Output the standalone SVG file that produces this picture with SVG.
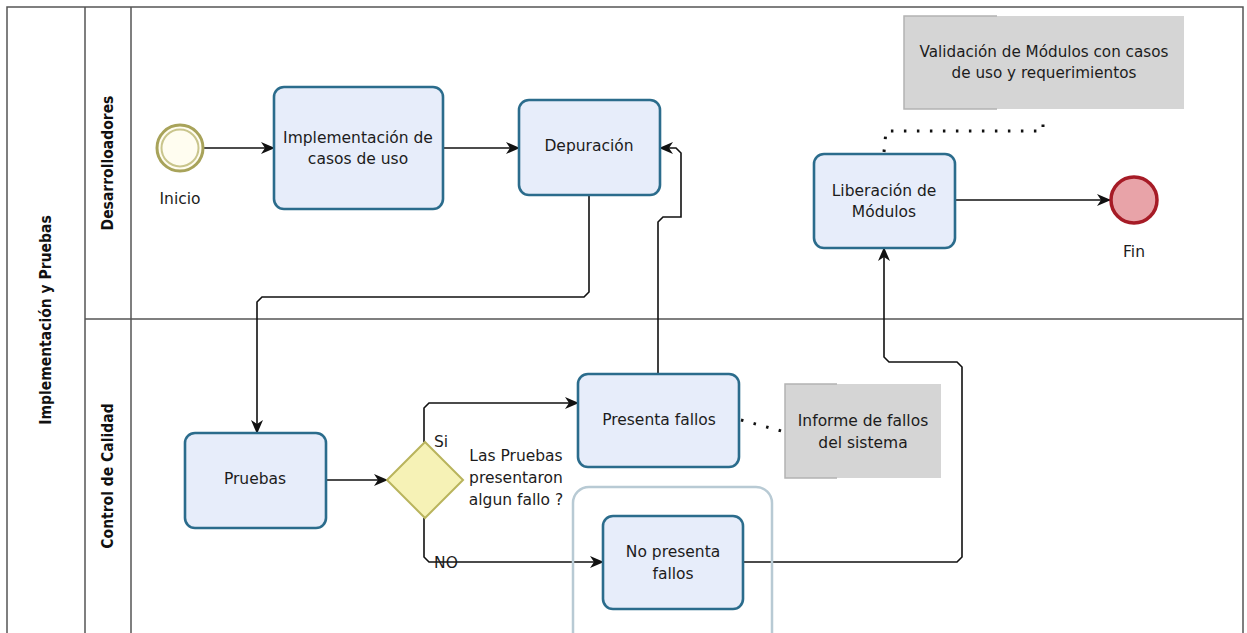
<svg xmlns="http://www.w3.org/2000/svg" width="1247" height="633" viewBox="0 0 1247 633">
  <defs>
    <marker id="arrow" viewBox="0 0 14 12" refX="13" refY="6" markerWidth="14" markerHeight="12" markerUnits="userSpaceOnUse" orient="auto">
      <path d="M0,0 L14,6 L0,12 L4,6 z" fill="#111"/>
    </marker>
    <style>
      .pool { fill: none; stroke: #555; stroke-width: 1.5; }
      .task { fill: #e7edfa; stroke: #2b6c8c; stroke-width: 2.6; }
      .flow { fill: none; stroke: #111; stroke-width: 1.6; marker-end: url(#arrow); }
      .assoc { fill: none; stroke: #111; stroke-width: 3; stroke-dasharray: 2.5 10.5; }
      .note { fill: #d5d5d5; }
      .bracket { fill: none; stroke: #b3b3b3; stroke-width: 1.5; }
      .lbl { font-family: "DejaVu Sans", "Liberation Sans", sans-serif; font-size: 15.5px; fill: #1c1c1c; text-anchor: middle; }
      .note-txt { font-size: 15.2px; }
      .lane { font-family: "DejaVu Sans Condensed", "DejaVu Sans", sans-serif; font-size: 15.5px; font-weight: bold; fill: #111; text-anchor: middle; }
    </style>
  </defs>

  <rect width="1247" height="633" fill="#fff"/>

  <!-- Pool and lanes -->
  <g id="pool">
    <path class="pool" d="M7,640 V7 H1243 V640"/>
    <path class="pool" d="M85,7 V640 M131,7 V640 M85,319 H1243"/>
    <text class="lane" transform="translate(51,320) rotate(-90)">Implementación y Pruebas</text>
    <text class="lane" transform="translate(113,163) rotate(-90)">Desarrolloadores</text>
    <text class="lane" transform="translate(113,476) rotate(-90)">Control de Calidad</text>
  </g>

  <!-- Connectors -->
  <g id="connectors">
    <path class="flow" d="M204,148 H274"/>
    <path class="flow" d="M443,148 H519"/>
    <path class="flow" d="M589,195 V292 L584,297 H262 L257,302 V433"/>
    <path class="flow" d="M326,480 H387"/>
    <path class="flow" d="M424,442 V408 L429,403 H578"/>
    <path class="flow" d="M424,518 V557 L429,562 H603"/>
    <path class="flow" d="M658,374 V222 L663,217 H681 V153 L676,148 H660"/>
    <path class="flow" d="M743,562 H957 L962,557 V367 L957,362 H889 L884,357 V248"/>
    <path class="flow" d="M955,200 H1110"/>
    <path class="assoc" d="M884,152 L886,131 H1043 V115"/>
    <path class="assoc" d="M741,420 L785,432"/>
  </g>

  <!-- Start event -->
  <g id="inicio">
    <circle cx="180" cy="148" r="23" fill="#fffdf0" stroke="#a8a35a" stroke-width="3"/>
    <circle cx="180" cy="148" r="18.5" fill="none" stroke="#c9c58c" stroke-width="2"/>
    <text class="lbl" x="180" y="204">Inicio</text>
  </g>

  <g id="implementacion">
    <rect class="task" x="274" y="87" width="169" height="122" rx="10"/>
    <text class="lbl" x="358" y="143">Implementación de</text>
    <text class="lbl" x="358" y="164">casos de uso</text>
  </g>

  <g id="depuracion">
    <rect class="task" x="519" y="100" width="141" height="95" rx="10"/>
    <text class="lbl" x="589" y="151">Depuración</text>
  </g>

  <g id="liberacion">
    <rect class="task" x="814" y="154" width="141" height="94" rx="10"/>
    <text class="lbl" x="884" y="196">Liberación  de</text>
    <text class="lbl" x="884" y="217">Módulos</text>
  </g>

  <!-- End event -->
  <g id="fin">
    <circle cx="1134" cy="200" r="23" fill="#e8a3a8" stroke="#a61b26" stroke-width="3.5"/>
    <text class="lbl" x="1134" y="257">Fin</text>
  </g>

  <g id="validacion">
    <rect class="note" x="904" y="16" width="280" height="93"/>
    <path class="bracket" d="M997,16 H904 V109 H997"/>
    <text class="lbl note-txt" x="1044" y="57">Validación de Módulos con casos</text>
    <text class="lbl note-txt" x="1044" y="78">de uso y requerimientos</text>
  </g>

  <g id="pruebas">
    <rect class="task" x="185" y="433" width="141" height="95" rx="10"/>
    <text class="lbl" x="255" y="484">Pruebas</text>
  </g>

  <!-- Exclusive gateway -->
  <g id="gateway">
    <path d="M425,442 L463,480 L425,518 L387,480 z" fill="#f6f2b6" stroke="#b9b45c" stroke-width="2"/>
    <text class="lbl" x="441" y="447">Si</text>
    <text class="lbl" x="516" y="461">Las Pruebas</text>
    <text class="lbl" x="516" y="483">presentaron</text>
    <text class="lbl" x="516" y="505">algun fallo ?</text>
    <text class="lbl" x="446" y="568">NO</text>
  </g>

  <g id="presenta-fallos">
    <rect class="task" x="578" y="374" width="161" height="93" rx="10"/>
    <text class="lbl" x="659" y="425">Presenta fallos</text>
  </g>

  <g id="informe">
    <rect class="note" x="785" y="384" width="156" height="94"/>
    <path class="bracket" d="M837,384 H785 V478 H837"/>
    <text class="lbl" x="863" y="426">Informe de fallos</text>
    <text class="lbl" x="863" y="448">del sistema</text>
  </g>

  <!-- Group around the no-failure task -->
  <g id="grupo">
    <rect x="573" y="487" width="199" height="170" rx="16" fill="none" stroke="#b8cad4" stroke-width="2.5"/>
  </g>

  <g id="no-presenta">
    <rect class="task" x="603" y="516" width="140" height="93" rx="10"/>
    <text class="lbl" x="673" y="557">No presenta</text>
    <text class="lbl" x="673" y="579">fallos</text>
  </g>
</svg>
